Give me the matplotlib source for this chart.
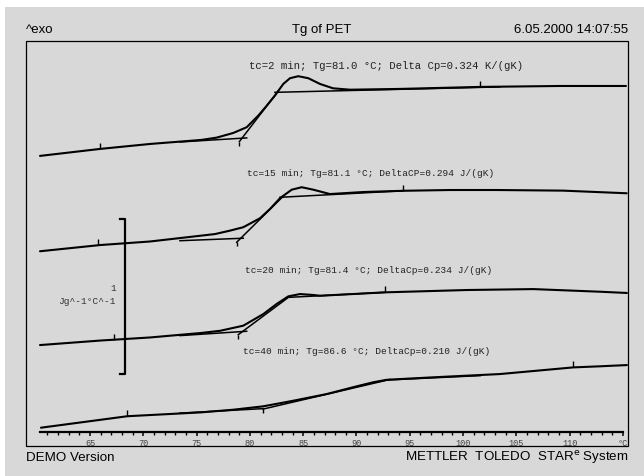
import numpy as np
import matplotlib
matplotlib.use('Agg')
import matplotlib.pyplot as plt
from matplotlib.patches import Rectangle


# temperature (C) and normalised heat flow (Jg^-1C^-1, arbitrary offset)
t1 = [60.31, 65.94, 70.63, 75.44, 76.89, 78.44, 79.70, 80.79, 81.58, 82.35, 83.13, 83.76, 84.54,
      85.48, 86.58, 87.80, 89.39, 94.08, 101.62, 109.09, 115.28]
y1 = [1.865, 1.910, 1.942, 1.968, 1.983, 2.013, 2.050, 2.125, 2.189, 2.254, 2.329, 2.366, 2.379,
      2.366, 2.329, 2.301, 2.292, 2.297, 2.310, 2.316, 2.316]

t2 = [60.31, 65.94, 70.63, 74.07, 76.73, 78.13, 79.38, 80.95, 81.89, 82.82, 83.92, 84.86, 85.95,
      87.51, 90.61, 94.36, 98.77, 103.15, 109.37, 115.35]
y2 = [1.250, 1.290, 1.313, 1.340, 1.361, 1.383, 1.405, 1.463, 1.523, 1.592, 1.647, 1.663, 1.647,
      1.619, 1.632, 1.640, 1.645, 1.645, 1.641, 1.624]

t3 = [60.31, 65.94, 70.63, 75.44, 77.20, 79.38, 81.26, 82.51, 83.60, 84.70, 85.95, 86.58, 92.67,
      100.34, 106.59, 112.84, 115.37]
y3 = [0.645, 0.674, 0.694, 0.723, 0.737, 0.770, 0.845, 0.910, 0.959, 0.974, 0.968, 0.963, 0.985,
      1.000, 1.006, 0.989, 0.981]

t4 = [60.40, 68.50, 75.44, 78.44, 81.26, 84.07, 87.20, 90.02, 91.57, 92.83, 94.71, 97.20, 103.45,
      110.34, 112.84, 115.37]
y4 = [0.112, 0.186, 0.211, 0.228, 0.250, 0.286, 0.329, 0.379, 0.405, 0.421, 0.428, 0.437, 0.458,
      0.501, 0.508, 0.516]

# evaluation tangents: (t_start, y_start, t_end, y_end) for baseline before, inflection, baseline after
tang1 = [(73.44, 1.955, 79.70, 1.981), (79.01, 1.957, 82.66, 2.284), (82.35, 2.275, 103.45, 2.310)]
tang2 = [(73.44, 1.318, 79.38, 1.334), (78.76, 1.308, 83.13, 1.605), (82.82, 1.598, 94.36, 1.640)]
tang3 = [(73.44, 0.706, 79.70, 0.734), (78.91, 0.712, 83.70, 0.957), (83.76, 0.953, 92.67, 0.985)]
tang4 = [(73.44, 0.206, 81.23, 0.235), (81.23, 0.232, 93.14, 0.423), (92.67, 0.419, 101.62, 0.448)]

# evaluation limits marked on each curve
lim1 = [(65.94, 1.912), (101.62, 2.310)]
lim2 = [(65.72, 1.290), (94.36, 1.640)]
lim3 = [(67.26, 0.680), (92.67, 0.985)]
lim4 = [(68.50, 0.186), (110.34, 0.501)]

labels = ['tc=2 min; Tg=81.0 \u00b0C; Delta Cp=0.324 K/(gK)',
          'tc=15 min; Tg=81.1 \u00b0C; DeltaCP=0.294 J/(gK)',
          'tc=20 min; Tg=81.4 \u00b0C; DeltaCp=0.234 J/(gK)',
          'tc=40 min; Tg=86.6 \u00b0C; DeltaCp=0.210 J/(gK)']
label_t = [79.90, 79.70, 79.54, 79.38]
label_y = [2.452, 1.759, 1.135, 0.613]
label_size = [7.7, 6.8, 6.8, 6.8]

major_ticks = [65, 70, 75, 80, 85, 90, 95, 100, 105, 110, 115]
major_labels = ['65', '70', '75', '80', '85', '90', '95', '100', '105', '110', '\u00b0C']
minor_ticks = list(range(61, 115))

scale_t = 68.28
scale_lo = 0.458
scale_len = 1.0

bg = '#d8d8d8'
mono = ['Liberation Mono', 'DejaVu Sans Mono']
sans = ['Liberation Sans', 'DejaVu Sans']

fig = plt.figure(figsize=(6.44, 4.77), dpi=100, facecolor='white')
fig.add_artist(Rectangle((5 / 644, 0), 639 / 644, 469 / 477, transform=fig.transFigure,
                         facecolor=bg, edgecolor='none', zorder=-10))

W, H = 644.0, 477.0
ax = fig.add_axes([26 / W, 1 - 447 / H, 602 / W, 405.3 / H])
ax.set_facecolor(bg)
ax.set_xlim(58.996, 115.47)
ax.set_ylim(-0.006, 2.608)

for t, y, tg, lim in [(t1, y1, tang1, lim1), (t2, y2, tang2, lim2), (t3, y3, tang3, lim3), (t4, y4, tang4, lim4)]:
    ax.plot(t, y, color='black', lw=1.5, solid_capstyle='round', solid_joinstyle='round')
    for (a, b, c, d) in tg:
        ax.plot([a, c], [b, d], color='black', lw=1.1)
    ax.plot([p[0] for p in lim], [p[1] for p in lim], ls='none', marker=2,
            ms=4, mew=1.0, color='black')
    ax.plot([tg[1][0]], [tg[1][1]], ls='none', marker=3, ms=3, mew=1.0, color='black')

for i in range(len(labels)):
    ax.text(label_t[i], label_y[i], labels[i], fontsize=label_size[i], family=mono,
            color='#222222', ha='left', va='center')

# scale bar
ax.plot([scale_t - 0.43, scale_t, scale_t, scale_t - 0.43],
        [scale_lo + scale_len, scale_lo + scale_len, scale_lo, scale_lo], color='black', lw=1.6)
ax.text(scale_t - 0.84, 1.019, '1', fontsize=6.8, family=mono, color='#333333', ha='right', va='center')
ax.text(scale_t - 0.84, 0.935, 'Jg^-1\u00b0C^-1', fontsize=6.8, family=mono, color='#333333',
        ha='right', va='center')

# temperature axis drawn inside the frame
for s in ['top', 'left', 'right']:
    ax.spines[s].set_visible(False)
ax.spines['bottom'].set_position(('data', 0.084))
ax.spines['bottom'].set_bounds(60.3, 115)
ax.spines['bottom'].set_linewidth(1.6)
ax.set_yticks([])
ax.set_xticks(major_ticks)
ax.set_xticklabels(major_labels, family=mono, fontsize=6.2, color='#444444')
ax.set_xticks(minor_ticks, minor=True)
ax.tick_params(axis='x', which='major', direction='out', length=3.0, width=1.1, pad=1.2)
ax.tick_params(axis='x', which='minor', direction='out', length=2.3, width=1.0)

# frame
fig.add_artist(Rectangle((26 / W, 1 - 447 / H), 602 / W, 405.3 / H, transform=fig.transFigure,
                         facecolor='none', edgecolor='black', lw=0.9))

fig.text(26 / W, 1 - 30 / H, '^exo', family=sans, fontsize=9.5, ha='left', va='center')
fig.text(322 / W, 1 - 30 / H, 'Tg of PET', family=sans, fontsize=9.5, ha='center', va='center')
fig.text(628 / W, 1 - 30 / H, '6.05.2000 14:07:55', family=sans, fontsize=9.5, ha='right', va='center')
fig.text(26 / W, 1 - 458 / H, 'DEMO Version', family=sans, fontsize=9.6, ha='left', va='center')
fig.text(628 / W, 1 - 458 / H, r'METTLER  TOLEDO  STAR$^{\rm e}$ System', family=sans,
         fontsize=9.6, ha='right', va='center')

plt.savefig('out.png', dpi=100, facecolor=fig.get_facecolor())
